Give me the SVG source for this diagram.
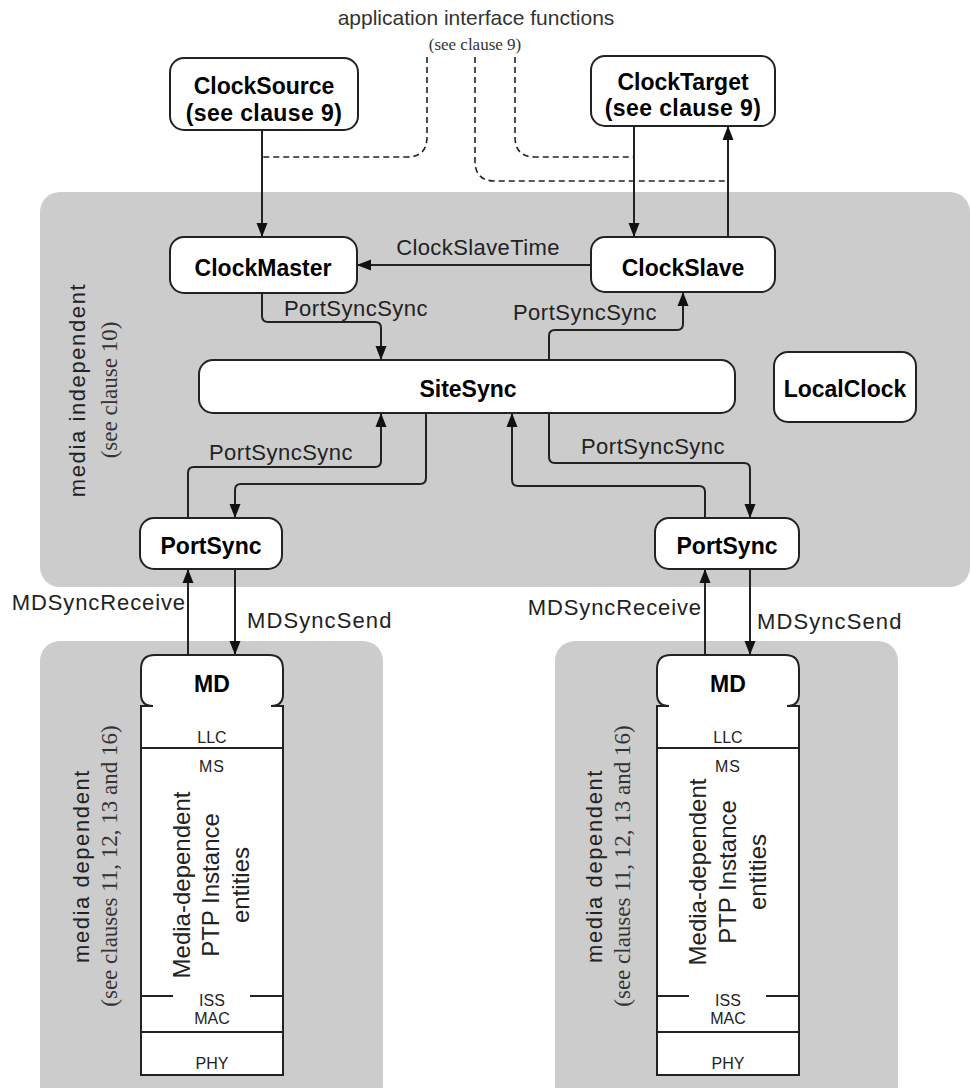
<svg xmlns="http://www.w3.org/2000/svg" width="971" height="1088" viewBox="0 0 971 1088">
<style>
.bg{fill:#cccccc;stroke:none}
.node{fill:#ffffff;stroke:#222222;stroke-width:2}
.nt{font-family:"Liberation Sans",Arial,sans-serif;font-weight:bold;font-size:23px;fill:#000;text-anchor:middle}
.lbl{font-family:"Liberation Sans",Arial,sans-serif;font-size:22px;fill:#222}
.ser{font-family:"Liberation Serif","Times New Roman",serif;fill:#333}
.small{font-family:"Liberation Sans",Arial,sans-serif;font-size:16px;fill:#222;text-anchor:middle}
.rot{font-family:"Liberation Sans",Arial,sans-serif;fill:#222;text-anchor:middle}
.conn{fill:none;stroke:#222;stroke-width:2}
.dash{fill:none;stroke:#222;stroke-width:1.6;stroke-dasharray:6 4}
.ln{stroke:#222;stroke-width:2;fill:none}
</style>
<defs>
<marker id="arr" viewBox="0 0 12 14" refX="14" refY="7" markerWidth="14" markerHeight="14" markerUnits="userSpaceOnUse" orient="auto">
<path d="M0,1.5 L14,7 L0,12.5 Z" fill="#111"/>
</marker>
</defs>

<g id="regions">
<rect class="bg" x="40" y="192" width="930" height="395" rx="20"/>
<rect class="bg" x="40" y="641" width="343" height="467" rx="20"/>
<rect class="bg" x="555" y="641" width="343" height="467" rx="20"/>
</g>

<g id="top-labels">
<text x="476" y="25" font-family="Liberation Sans, Arial, sans-serif" font-size="21" fill="#333" text-anchor="middle">application interface functions</text>
<text class="ser" x="475" y="50" font-size="17" text-anchor="middle">(see clause 9)</text>
</g>

<g id="region-labels">
<text class="rot" font-size="22" letter-spacing="1.6" transform="translate(85,390) rotate(-90)">media independent</text>
<text class="ser" font-size="23" text-anchor="middle" transform="translate(117,390) rotate(-90)">(see clause 10)</text>
<text class="rot" font-size="22" letter-spacing="1.6" transform="translate(89,866) rotate(-90)">media dependent</text>
<text class="ser" font-size="23" text-anchor="middle" transform="translate(117,866) rotate(-90)">(see clauses 11, 12, 13 and 16)</text>
<text class="rot" font-size="22" letter-spacing="1.6" transform="translate(602,866) rotate(-90)">media dependent</text>
<text class="ser" font-size="23" text-anchor="middle" transform="translate(630,866) rotate(-90)">(see clauses 11, 12, 13 and 16)</text>
</g>

<g id="connectors">
<path class="dash" d="M427,57 V137 Q427,157 407,157 H262"/>
<path class="dash" d="M475,57 V161 Q475,181 495,181 H728"/>
<path class="dash" d="M515,57 V137 Q515,157 535,157 H634"/>
<path class="conn" marker-end="url(#arr)" d="M262,130 V237"/>
<path class="conn" marker-end="url(#arr)" d="M634,126 V237"/>
<path class="conn" marker-end="url(#arr)" d="M728,237 V126"/>
<path class="conn" marker-end="url(#arr)" d="M591,265 H357"/>
<path class="conn" marker-end="url(#arr)" d="M262,293 V316 Q262,322 268,322 H375 Q381,322 381,328 V360"/>
<path class="conn" marker-end="url(#arr)" d="M549,360 V336 Q549,330 555,330 H677 Q683,330 683,324 V292"/>
<path class="conn" marker-end="url(#arr)" d="M188,518 V473 Q188,467 194,467 H375 Q381,467 381,461 V413"/>
<path class="conn" marker-end="url(#arr)" d="M426,413 V478 Q426,484 420,484 H241 Q235,484 235,490 V518"/>
<path class="conn" marker-end="url(#arr)" d="M549,413 V457 Q549,463 555,463 H744 Q750,463 750,469 V518"/>
<path class="conn" marker-end="url(#arr)" d="M705,518 V492 Q705,486 699,486 H518 Q512,486 512,480 V413"/>
<path class="conn" marker-end="url(#arr)" d="M188,655 V569"/>
<path class="conn" marker-end="url(#arr)" d="M235,569 V655"/>
<path class="conn" marker-end="url(#arr)" d="M705,655 V569"/>
<path class="conn" marker-end="url(#arr)" d="M750,569 V655"/>
<text class="lbl" x="478" y="255" text-anchor="middle" font-size="23" letter-spacing="0.4">ClockSlaveTime</text>
<text class="lbl" x="356" y="316" text-anchor="middle" font-size="23" letter-spacing="0.5">PortSyncSync</text>
<text class="lbl" x="585" y="320" text-anchor="middle" font-size="23" letter-spacing="0.5">PortSyncSync</text>
<text class="lbl" x="281" y="460" text-anchor="middle" font-size="23" letter-spacing="0.5">PortSyncSync</text>
<text class="lbl" x="653" y="454" text-anchor="middle" font-size="23" letter-spacing="0.5">PortSyncSync</text>
<text class="lbl" x="186" y="610" text-anchor="end" font-size="23" letter-spacing="0.9">MDSyncReceive</text>
<text class="lbl" x="247" y="628" font-size="23" letter-spacing="1.1">MDSyncSend</text>
<text class="lbl" x="702" y="615" text-anchor="end" font-size="23" letter-spacing="0.9">MDSyncReceive</text>
<text class="lbl" x="757" y="629" font-size="23" letter-spacing="1.1">MDSyncSend</text>
</g>

<g id="ClockSource">
<rect class="node" x="170" y="58" width="188" height="72" rx="14"/>
<text class="nt" x="264" y="94">ClockSource</text>
<text class="nt" x="264" y="121" font-size="20" letter-spacing="0.4">(see clause 9)</text>
</g>
<g id="ClockTarget">
<rect class="node" x="591" y="56" width="184" height="70" rx="14"/>
<text class="nt" x="683" y="90">ClockTarget</text>
<text class="nt" x="683" y="116" font-size="20" letter-spacing="0.4">(see clause 9)</text>
</g>
<g id="ClockMaster">
<rect class="node" x="170" y="237" width="187" height="56" rx="14"/>
<text class="nt" x="263" y="276">ClockMaster</text>
</g>
<g id="ClockSlave">
<rect class="node" x="591" y="237" width="184" height="55" rx="14"/>
<text class="nt" x="683" y="276">ClockSlave</text>
</g>
<g id="SiteSync">
<rect class="node" x="199" y="360" width="536" height="53" rx="14"/>
<text class="nt" x="468" y="397">SiteSync</text>
</g>
<g id="LocalClock">
<rect class="node" x="774" y="352" width="142" height="70" rx="14"/>
<text class="nt" x="845" y="397">LocalClock</text>
</g>
<g id="PortSync-left">
<rect class="node" x="140" y="518" width="142" height="51" rx="14"/>
<text class="nt" x="211" y="554">PortSync</text>
</g>
<g id="PortSync-right">
<rect class="node" x="655" y="518" width="144" height="51" rx="14"/>
<text class="nt" x="727" y="554">PortSync</text>
</g>

<g id="MD-left">
<path class="node" d="M141,1075 L141,706 L153,706 Q141,706 141,694 L141,669 Q141,655 155,655 L269,655 Q283,655 283,669 L283,694 Q283,706 271,706 L283,706 L283,1075 Z"/>
<text class="nt" x="212" y="692" font-size="24">MD</text>
<text class="small" x="212" y="743">LLC</text>
<line class="ln" x1="141" y1="748" x2="283" y2="748"/>
<text class="small" x="212" y="772" letter-spacing="1">MS</text>
<text class="rot" font-size="24" transform="translate(190,885) rotate(-90)">Media-dependent</text>
<text class="rot" font-size="24" transform="translate(219,885) rotate(-90)">PTP Instance</text>
<text class="rot" font-size="24" transform="translate(249,885) rotate(-90)">entities</text>
<line class="ln" x1="141" y1="996" x2="173" y2="996"/>
<line class="ln" x1="250" y1="996" x2="283" y2="996"/>
<text class="small" x="212" y="1006">ISS</text>
<text class="small" x="212" y="1024" font-size="18">MAC</text>
<line class="ln" x1="141" y1="1032" x2="283" y2="1032"/>
<text class="small" x="212" y="1069">PHY</text>
</g>

<g id="MD-right">
<path class="node" d="M657,1075 L657,706 L669,706 Q657,706 657,694 L657,669 Q657,655 671,655 L785,655 Q799,655 799,669 L799,694 Q799,706 787,706 L799,706 L799,1075 Z"/>
<text class="nt" x="728" y="692" font-size="24">MD</text>
<text class="small" x="728" y="743">LLC</text>
<line class="ln" x1="657" y1="748" x2="799" y2="748"/>
<text class="small" x="728" y="772" letter-spacing="1">MS</text>
<text class="rot" font-size="24" transform="translate(706,872) rotate(-90)">Media-dependent</text>
<text class="rot" font-size="24" transform="translate(736,872) rotate(-90)">PTP Instance</text>
<text class="rot" font-size="24" transform="translate(766,872) rotate(-90)">entities</text>
<line class="ln" x1="657" y1="996" x2="689" y2="996"/>
<line class="ln" x1="766" y1="996" x2="799" y2="996"/>
<text class="small" x="728" y="1006">ISS</text>
<text class="small" x="728" y="1024" font-size="18">MAC</text>
<line class="ln" x1="657" y1="1032" x2="799" y2="1032"/>
<text class="small" x="728" y="1069">PHY</text>
</g>
</svg>
